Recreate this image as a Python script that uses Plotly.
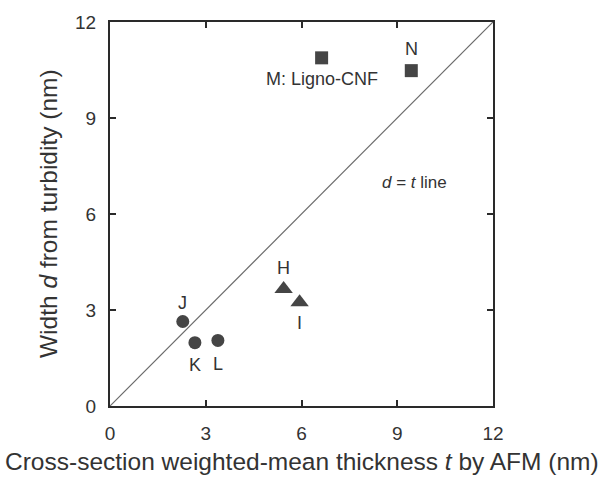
import plotly.graph_objects as go

circle_labels = ["J", "K", "L"]
circle_x = [2.28, 2.66, 3.38]
circle_y = [2.64, 1.98, 2.05]

tri_labels = ["H", "I"]
tri_x = [5.44, 5.94]
tri_y = [3.66, 3.24]

sq_labels = ["M: Ligno-CNF", "N"]
sq_x = [6.63, 9.44]
sq_y = [10.88, 10.48]

ticks = [0, 3, 6, 9, 12]
line_xy = [0, 12]

mc = "#454545"
font = "Liberation Sans, Arial, sans-serif"

fig = go.Figure()
fig.add_trace(go.Scatter(x=line_xy, y=line_xy, mode="lines",
                         line=dict(color="#6a6a6a", width=1.2), hoverinfo="skip"))
fig.add_trace(go.Scatter(x=circle_x, y=circle_y, mode="markers",
                         marker=dict(symbol="circle", size=13, color=mc)))
fig.add_trace(go.Scatter(x=tri_x, y=tri_y, mode="markers",
                         marker=dict(symbol="triangle-up", size=16, color=mc)))
fig.add_trace(go.Scatter(x=sq_x, y=sq_y, mode="markers",
                         marker=dict(symbol="square", size=13, color=mc)))

# point labels (offsets in pixels)
offsets = {"J": (0, -19), "K": (0, 22), "L": (0, 24), "H": (0, -21), "I": (0, 21),
           "M: Ligno-CNF": (0, 21), "N": (0, -22)}
for labs, xs, ys in [(circle_labels, circle_x, circle_y), (tri_labels, tri_x, tri_y),
                     (sq_labels, sq_x, sq_y)]:
    for lab, x, y in zip(labs, xs, ys):
        dx, dy = offsets[lab]
        fig.add_annotation(x=x, y=y, text=lab, showarrow=False, xshift=dx, yshift=-dy,
                           font=dict(size=18, color="#333333", family=font))

fig.add_annotation(x=9.55, y=7.0, text="<i>d</i> = <i>t</i> line", showarrow=False,
                   font=dict(size=17, color="#333333", family=font))

fig.add_annotation(xref="paper", yref="paper", x=0.5, y=0, yshift=-55,
                   text="Cross-section weighted-mean thickness <i>t</i> by AFM (nm)",
                   showarrow=False, font=dict(size=24.5, color="#333333", family=font),
                   yanchor="middle")
fig.add_annotation(xref="paper", yref="paper", x=0, xshift=-62, y=0.5,
                   text="Width <i>d</i> from turbidity (nm)", textangle=-90,
                   showarrow=False, font=dict(size=24.5, color="#333333", family=font),
                   xanchor="center")

axis_common = dict(range=[0, 12], tickvals=ticks, ticks="inside", ticklen=6, tickwidth=1.5,
                   tickcolor="#2a2a2a", showline=True, linecolor="#2a2a2a", linewidth=2,
                   mirror="ticks", showgrid=False, zeroline=False,
                   tickfont=dict(size=19, color="#333333", family=font))
fig.update_xaxes(**axis_common, ticklabelstandoff=9)
fig.update_yaxes(**axis_common, ticklabelstandoff=8)

fig.update_layout(width=603, height=480, margin=dict(l=110, r=110, t=19, b=74),
                  plot_bgcolor="white", paper_bgcolor="white", showlegend=False)

fig.write_html("out.html")
